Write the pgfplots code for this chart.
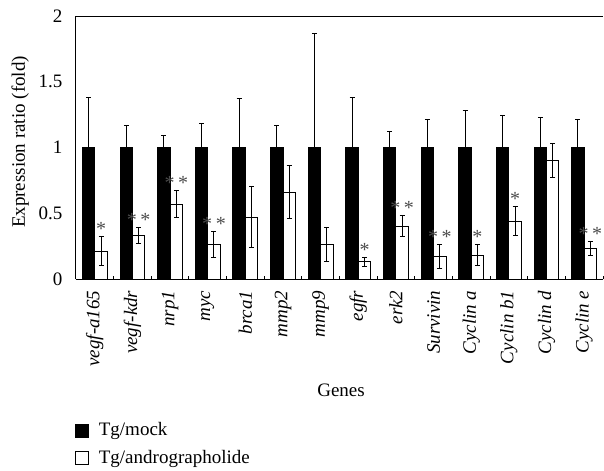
\documentclass[border=0pt]{standalone}
\usepackage{fontspec}
\setmainfont{Liberation Serif}
\usepackage{pgfplots}
\usepackage{pgfplotstable}
\pgfplotsset{compat=1.18}

\newcommand\one{*}
\newcommand\two{*\hspace{1.8pt}*}

\pgfplotstableread{
x mock mockerr treat treaterr
0  1 0.38  0.21  0.11
1  1 0.17  0.33  0.06
2  1 0.09  0.57  0.10
3  1 0.18  0.265 0.10
4  1 0.37  0.47  0.23
5  1 0.17  0.66  0.20
6  1 0.865 0.265 0.13
7  1 0.38  0.13  0.035
8  1 0.12  0.40  0.08
9  1 0.21  0.17  0.09
10 1 0.28  0.18  0.08
11 1 0.24  0.44  0.11
12 1 0.23  0.90  0.13
13 1 0.21  0.23  0.055
}\data

\pgfplotstableread{
x top s
0  0.32  \one
1  0.39  \two
2  0.67  \two
3  0.365 \two
7  0.165 \one
8  0.48  \two
9  0.26  \two
10 0.26  \one
11 0.55  \one
13 0.285 \two
}\stars

\begin{document}
\begin{tikzpicture}
\begin{axis}[
  name=ax,
  font=\fontsize{9.5}{11}\selectfont,
  scale only axis, width=263.5pt, height=131.5pt,
  xmin=-0.5, xmax=13.5, ymin=0, ymax=2,
  axis x line*=bottom, axis y line*=left,
  axis line style={-, line width=0.5pt},
  ytick={0,0.5,1,1.5,2},
  yticklabels={0,0.5,1,1.5,2},
  xtick={0,...,13},
  xticklabels={vegf-a165,vegf-kdr,nrp1,myc,brca1,mmp2,mmp9,egfr,erk2,Survivin,Cyclin a,Cyclin b1,Cyclin d,Cyclin e},
  xticklabel style={rotate=90, anchor=east, font=\fontsize{9.5}{11}\selectfont\itshape, xshift=-2.3pt},
  yticklabel style={xshift=-3.3pt},
  minor xtick={-0.5,0.5,...,13.5},
  major tick length=0pt, minor tick length=1.5pt,
  tick align=inside,
  minor tick style={black, line width=0.5pt},
  /pgf/number format/assume math mode=true,
  xlabel={Genes}, ylabel={Expression ratio (fold)},
  every axis x label/.style={at={(axis description cs:0.503,-0.422)}, anchor=center},
  every axis y label/.style={at={(axis description cs:-0.106,0.521)}, anchor=center, rotate=90},
  clip=false,
  legend style={at={(axis description cs:-0.002,-0.53)}, anchor=north west, draw=none, fill=none,
    inner sep=0pt, row sep=1.5pt, cells={anchor=west}, font=\fontsize{9.5}{11}\selectfont},
  legend cell align=left,
]
\addplot[ybar, bar width=6.2pt, bar shift=0pt, fill=black, draw=black, line width=0.5pt,
  legend image code/.code={\draw[fill=black,draw=black] (0pt,-3.25pt) rectangle (6.5pt,3.25pt); \path[draw=none,fill=none] (0pt,0pt) rectangle (9.5pt,0pt);},
  error bars/.cd, y dir=plus, y explicit,
  error bar style={line width=0.5pt, black},
  error mark options={rotate=90, mark size=1.25pt, line width=0.5pt, black}]
  table[x expr=\thisrow{x}-0.165, y=mock, y error=mockerr] {\data};
\addlegendentry{Tg/mock}
\addplot[ybar, bar width=6.2pt, bar shift=0pt, fill=white, draw=black, line width=0.5pt,
  legend image code/.code={\draw[fill=white,draw=black,line width=0.5pt] (0pt,-3.25pt) rectangle (6.5pt,3.25pt); \path[draw=none,fill=none] (0pt,0pt) rectangle (9.5pt,0pt);},
  error bars/.cd, y dir=both, y explicit,
  error bar style={line width=0.5pt, black},
  error mark options={rotate=90, mark size=1.25pt, line width=0.5pt, black}]
  table[x expr=\thisrow{x}+0.165, y=treat, y error=treaterr] {\data};
\addlegendentry{Tg/andrographolide}
\addplot[only marks, mark=none, forget plot,
  nodes near coords, point meta=explicit symbolic,
  nodes near coords style={anchor=south, inner sep=0pt, yshift=0.3pt, text=black!70, font=\fontsize{10}{11}\selectfont}]
  table[x expr=\thisrow{x}+0.165, y=top, meta=s] {\stars};
\draw[line width=0.5pt] (rel axis cs:0,1) -- (rel axis cs:1,1);
\end{axis}
\path ([xshift=-38pt,yshift=-94.5pt]ax.south west) rectangle ([xshift=0.5pt,yshift=8pt]ax.north east);
\end{tikzpicture}
\end{document}
